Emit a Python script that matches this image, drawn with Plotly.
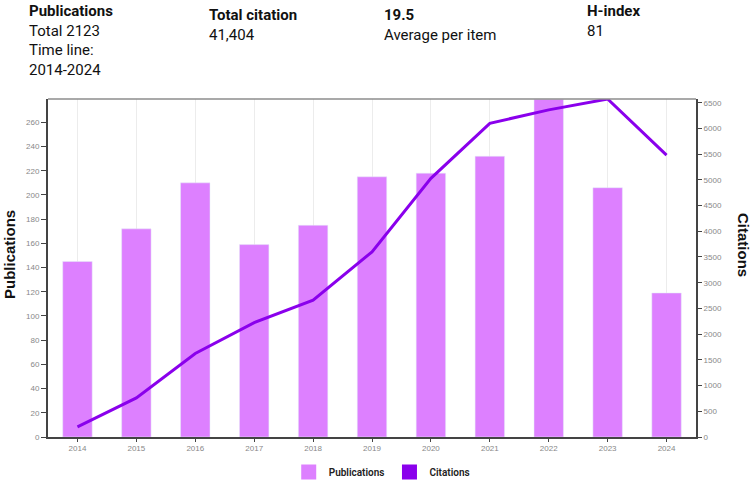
import plotly.graph_objects as go

years = ["2014", "2015", "2016", "2017", "2018", "2019", "2020", "2021", "2022", "2023", "2024"]
publications = [145, 172, 210, 159, 175, 215, 218, 232, 279, 206, 119]
citations = [195, 760, 1625, 2225, 2660, 3600, 5030, 6100, 6360, 6572, 5480]

pub_ticks = list(range(0, 261, 20))
pub_grid = list(range(0, 251, 50))
cit_ticks = list(range(0, 6501, 500))

header_blocks = [
    ("<b>Publications</b><br>Total 2123<br>Time line:<br>2014-2024", 27, 0),
    ("<b>Total citation</b><br>41,404", 207, 4),
    ("<b>19.5</b><br>Average per item", 382, 4),
    ("<b>H-index</b><br>81", 585, 0),
]

BAR = "#DD80FF"
LINE = "#8A00EC"
W, H = 753, 484
L, R, T, B = 48, 696, 99, 437

fig = go.Figure()
fig.add_trace(go.Bar(x=years, y=publications, name="Publications", marker_color=BAR,
                     width=0.5, yaxis="y", showlegend=False, legendgroup="p"))
fig.add_trace(go.Scatter(x=years, y=citations, name="Citations", mode="lines",
                         line=dict(color=LINE, width=3), yaxis="y2", showlegend=False,
                         legendgroup="c"))
# legend entries (square swatches)
fig.add_trace(go.Scatter(x=[None], y=[None], mode="markers", name="Publications",
                         marker=dict(symbol="square", size=15, color=BAR), legendgroup="p"))
fig.add_trace(go.Scatter(x=[None], y=[None], mode="markers", name="Citations",
                         marker=dict(symbol="square", size=15, color=LINE), legendgroup="c",
                         yaxis="y2"))

ax_font = dict(family="Liberation Sans", size=8, color="#888888")
fig.update_layout(
    width=W, height=H,
    margin=dict(l=L, r=W - R, t=T, b=H - B, pad=0, autoexpand=False),
    paper_bgcolor="white", plot_bgcolor="white",
    barmode="overlay",
    xaxis=dict(type="category", range=[-0.5, 10.5], showgrid=True, gridcolor="#ececec",
               gridwidth=1, showline=True, linecolor="#444444", linewidth=1.5,
               ticks="outside", ticklen=3, tickcolor="#444444", tickfont=ax_font,
               mirror=False, zeroline=False),
    yaxis=dict(range=[0, 279.3], tickvals=pub_ticks, showgrid=False, showline=True,
               linecolor="#444444", linewidth=2, ticks="outside", ticklen=5,
               tickcolor="#444444", tickfont=ax_font, zeroline=False),
    yaxis3=dict(range=[0, 279.3], tickvals=pub_grid, overlaying="y", anchor="x",
                showgrid=True, gridcolor="#ececec", gridwidth=1, showticklabels=False,
                ticks="", showline=False, zeroline=False),
    yaxis2=dict(range=[0, 6572], tickvals=cit_ticks, overlaying="y", side="right",
                anchor="x", showgrid=False, showline=True, linecolor="#444444",
                linewidth=2, ticks="outside", ticklen=4, tickcolor="#444444",
                tickfont=ax_font, zeroline=False),
    legend=dict(orientation="h", x=0.515, xanchor="center",
                yref="container", y=(H - 472) / H, yanchor="middle",
                font=dict(family="Roboto", size=10, color="#222222", weight=600),
                itemsizing="trace", itemwidth=30, bgcolor="rgba(0,0,0,0)"),
    showlegend=True,
)

# top border
fig.add_shape(type="line", xref="paper", yref="paper", x0=0, x1=1, y0=1, y1=1,
              line=dict(color="#8c8c8c", width=1.5))

def px_x(px):
    return (px - L) / (R - L)

def px_y(py):
    return (B - py) / (B - T)

for text, x0, y0 in header_blocks:
    fig.add_annotation(text=text, xref="paper", yref="paper", x=px_x(x0), y=px_y(y0),
                       xanchor="left", yanchor="top", align="left", showarrow=False,
                       font=dict(family="Roboto", size=15, color="#111111"))

fig.add_annotation(text="<b>Publications</b>", xref="paper", yref="paper",
                   x=px_x(9), y=px_y(255), textangle=-90, showarrow=False,
                   xanchor="center", yanchor="middle",
                   font=dict(family="Liberation Sans", size=15, color="#111111"))
fig.add_annotation(text="<b>Citations</b>", xref="paper", yref="paper",
                   x=px_x(744), y=px_y(245), textangle=90, showarrow=False,
                   xanchor="center", yanchor="middle",
                   font=dict(family="Liberation Sans", size=15, color="#111111"))

fig.write_html("out.html", config={"displayModeBar": False},
               post_script="document.body.style.margin='0';")
